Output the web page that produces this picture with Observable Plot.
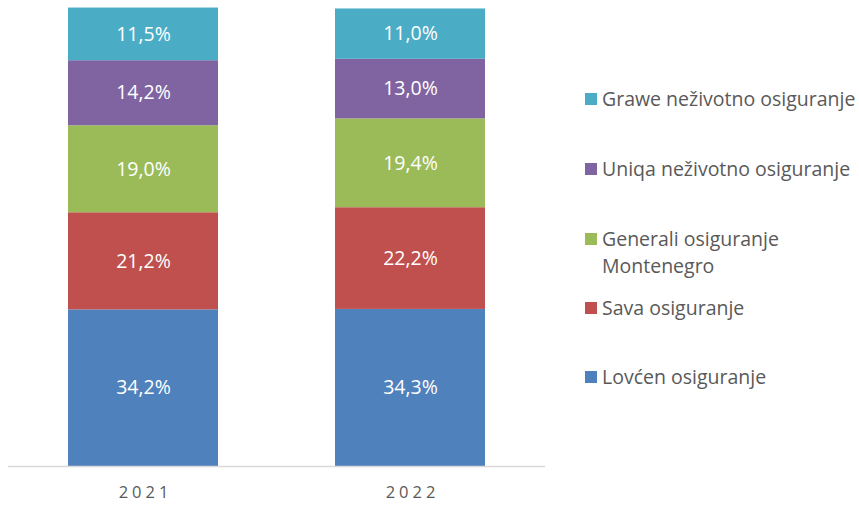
<!DOCTYPE html>
<html><head><meta charset="utf-8">
<script src="https://cdn.jsdelivr.net/npm/d3@7"></script>
<script src="https://cdn.jsdelivr.net/npm/@observablehq/plot@0.6"></script>
<style>
body{margin:0;background:#fff;font-family:"Open Sans",sans-serif;}
#wrap{position:relative;width:859px;height:505px;}
#legend{position:absolute;left:585px;top:0;font-size:19.5px;color:#595959;}
.li{position:absolute;left:0;white-space:nowrap;display:flex;align-items:flex-start;line-height:27px;}
.sw{width:12px;height:12px;margin-top:8px;margin-right:5px;flex:none;}
svg [aria-label="x-axis tick label"] text{letter-spacing:4px;}
</style></head>
<body><div id="wrap"><div id="legend"></div></div>
<script>
const years = ["2021", "2022"];
const companies = ["Lovćen osiguranje", "Sava osiguranje", "Generali osiguranje Montenegro", "Uniqa neživotno osiguranje", "Grawe neživotno osiguranje"];
const legendLabels = ["Lovćen osiguranje", "Sava osiguranje", "Generali osiguranje<br>Montenegro", "Uniqa neživotno osiguranje", "Grawe neživotno osiguranje"];
const colors = ["#4F81BD", "#C0504D", "#9BBB59", "#8064A2", "#4BACC6"];
const values2021 = [34.2, 21.2, 19.0, 14.2, 11.5];
const values2022 = [34.3, 22.2, 19.4, 13.0, 11.0];

const data = [];
companies.forEach((c, i) => {
  data.push({year: years[0], company: c, value: values2021[i]});
  data.push({year: years[1], company: c, value: values2022[i]});
});
const fmt = v => v.toFixed(1).replace(".", ",") + "%";

const chart = Plot.plot({
  width: 859, height: 505,
  marginLeft: 8, marginRight: 314, marginTop: 8, marginBottom: 39,
  style: {fontFamily: "'Open Sans', sans-serif", fontSize: "16.5px", color: "#595959", background: "#fff"},
  x: {domain: years, paddingInner: 0.439, paddingOuter: 0.223, label: null, tickSize: 0, tickPadding: 20},
  y: {domain: [0, 100], axis: null},
  color: {domain: companies, range: colors},
  marks: [
    Plot.barY(data, Plot.stackY({x: "year", y: "value", fill: "company", order: companies})),
    Plot.ruleY([0], {stroke: "#d9d9d9", strokeWidth: 1.5}),
    Plot.text(data, Plot.stackY({x: "year", y: "value", z: "company", order: companies, text: d => fmt(d.value), fill: "white", fontSize: 19.5}))
  ]
});
document.getElementById("wrap").prepend(chart);
chart.style.position = "absolute"; chart.style.left = "0"; chart.style.top = "0";
chart.querySelectorAll('[aria-label="x-axis tick label"] text').forEach(t => t.setAttribute("dx", "2"));

const legendTops = [362.5, 293.5, 224.5, 154.5, 84.5];
const lg = document.getElementById("legend");
companies.forEach((c, i) => {
  const el = document.createElement("div");
  el.className = "li";
  el.style.top = legendTops[i] + "px";
  el.innerHTML = `<span class="sw" style="background:${colors[i]}"></span><span>${legendLabels[i]}</span>`;
  lg.appendChild(el);
});
</script></body></html>
